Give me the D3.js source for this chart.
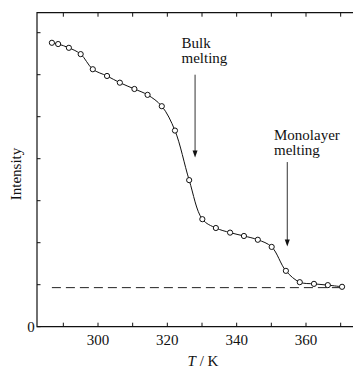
<!DOCTYPE html>
<html><head><meta charset="utf-8">
<script src="https://cdn.jsdelivr.net/npm/d3@7"></script>
<style>body{margin:0;background:#fff}svg{display:block}text{font-family:"Liberation Serif","DejaVu Serif",serif;fill:#111}</style>
</head><body>
<svg id="c" width="353" height="372"></svg>
<script>
const temps = [286.7,288.5,291.6,295.0,298.5,302.6,306.3,310.5,314.3,318.4,322.2,326.3,330.1,334.0,338.1,342.1,346.1,350.1,354.2,358.2,362.3,366.3,370.4];
const intensity = [6.76,6.73,6.64,6.49,6.13,5.97,5.81,5.66,5.52,5.25,4.67,3.49,2.56,2.35,2.24,2.16,2.07,1.90,1.33,1.06,1.02,0.99,0.95];
const baseline = 0.93;
const baselineRange = [286.7, 370.4];
const xTicks = [290,300,310,320,330,340,350,360,370];
const xLabels = [300,320,340,360];
const yTicks = [0,1,2,3,4,5,6,7];
const annotations = [
  {lines:["Bulk","melting"], T:328.0, yTop:6.0, yTip:4.03},
  {lines:["Monolayer","melting"], T:354.6, yTop:3.92, yTip:1.91}
];

const svg = d3.select("#c");
const x = d3.scaleLinear().domain([300,360]).range([98,306]);
const y = d3.scaleLinear().domain([0,7]).range([326.7,32.7]);
const L = 37, R = 353, T = 12.7, B = 326.7;
const FS = 15;

svg.append("path").attr("d",`M${R},${T}H${L}V${B}H${R}`).attr("fill","none").attr("stroke","#111").attr("stroke-width",1.2);

const g = svg.append("g").attr("stroke","#111").attr("stroke-width",1);
xTicks.forEach(t=>{
  g.append("line").attr("x1",x(t)).attr("x2",x(t)).attr("y1",B).attr("y2",B-4);
  g.append("line").attr("x1",x(t)).attr("x2",x(t)).attr("y1",T).attr("y2",T+4);
});
yTicks.forEach(t=>{
  g.append("line").attr("x1",L).attr("x2",L+3.5).attr("y1",y(t)).attr("y2",y(t));
});
xLabels.forEach(t=>{
  svg.append("text").attr("x",x(t)).attr("y",344.5).attr("text-anchor","middle").attr("font-size",FS).text(t);
});
svg.append("text").attr("x",31).attr("y",y(0)+5).attr("text-anchor","middle").attr("font-size",FS).text("0");

const xt = svg.append("text").attr("x",203).attr("y",366).attr("text-anchor","middle").attr("font-size",FS);
xt.append("tspan").attr("font-style","italic").text("T");
xt.append("tspan").text(" / K");
svg.append("text").attr("transform","translate(21,174) rotate(-90)").attr("text-anchor","middle").attr("font-size",FS).text("Intensity");

svg.append("line").attr("x1",x(baselineRange[0])).attr("x2",x(baselineRange[1]))
  .attr("y1",y(baseline)).attr("y2",y(baseline))
  .attr("stroke","#222").attr("stroke-width",1).attr("stroke-dasharray","9,5");

const data = temps.map((t,i)=>[t,intensity[i]]);
const line = d3.line().x(d=>x(d[0])).y(d=>y(d[1])).curve(d3.curveCatmullRom.alpha(0.5));
svg.append("path").datum(data).attr("d",line).attr("fill","none").attr("stroke","#111").attr("stroke-width",1);
svg.selectAll("circle").data(data).enter().append("circle")
  .attr("cx",d=>x(d[0])).attr("cy",d=>y(d[1])).attr("r",2.6)
  .attr("fill","#fff").attr("stroke","#111").attr("stroke-width",1);

annotations.forEach((a,k)=>{
  const ax = x(a.T);
  svg.append("line").attr("x1",ax).attr("x2",ax).attr("y1",y(a.yTop)).attr("y2",y(a.yTip)-6)
    .attr("stroke","#333").attr("stroke-width",1);
  svg.append("path").attr("d",`M${ax-2.5},${y(a.yTip)-7}L${ax+2.5},${y(a.yTip)-7}L${ax},${y(a.yTip)}Z`).attr("fill","#111");
  const tx = k===0 ? 181.5 : 274;
  const ty = k===0 ? 48 : 140;
  a.lines.forEach((s,i)=>{
    svg.append("text").attr("x",tx).attr("y",ty+i*15).attr("font-size",FS).text(s);
  });
});
</script>
</body></html>
